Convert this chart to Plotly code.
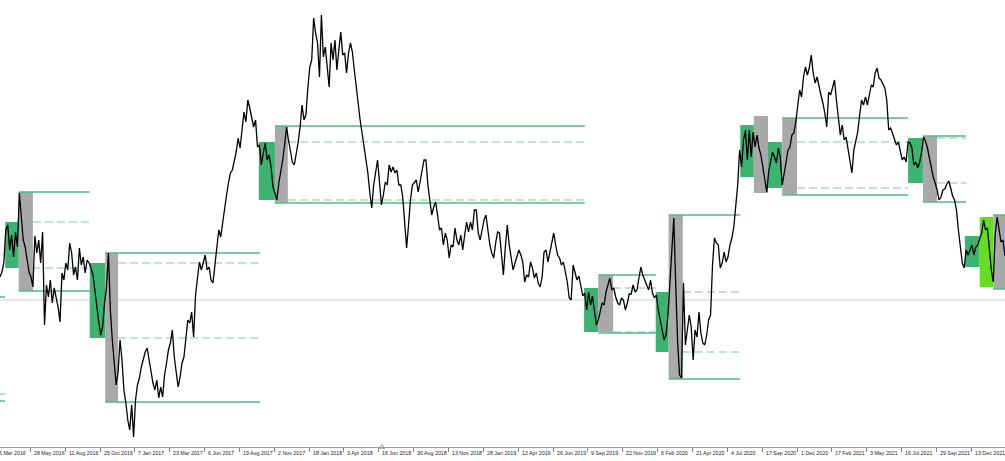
import numpy as np
import plotly.graph_objects as go

# Daily close samples (every 3 bars), EURUSD-like
close = [
    1.1245, 1.1270, 1.1320, 1.1480, 1.1505, 1.1380, 1.1455, 1.1345, 1.1470, 1.1395,
    1.1665, 1.1540, 1.1430, 1.1395, 1.1320, 1.1270, 1.1245, 1.1195, 1.1450, 1.1365,
    1.1430, 1.1315, 1.1470, 1.1005, 1.1205, 1.1145, 1.1230, 1.1115, 1.1190, 1.1140,
    1.1095, 1.1020, 1.1265, 1.1230, 1.1315, 1.1280, 1.1415, 1.1365, 1.1255, 1.1295,
    1.1230, 1.1390, 1.1305, 1.1345, 1.1265, 1.1330, 1.1315, 1.1290, 1.1255, 1.1180,
    1.1090, 1.1020, 1.0955, 1.0995, 1.1115, 1.1195, 1.1365, 1.1080, 1.0930, 1.0805,
    1.0705, 1.0770, 1.0930, 1.0830, 1.0680, 1.0615, 1.0530, 1.0480, 1.0605, 1.0445,
    1.0630, 1.0705, 1.0740, 1.0795, 1.0830, 1.0870, 1.0890, 1.0830, 1.0765, 1.0715,
    1.0680, 1.0730, 1.0640, 1.0695, 1.0645, 1.0755, 1.0815, 1.0880, 1.0915, 1.0980,
    1.0845, 1.0780, 1.0695, 1.0745, 1.0815, 1.0845, 1.0955, 1.1030, 1.1015, 1.1070,
    1.0945, 1.1155, 1.1240, 1.1320, 1.1280, 1.1315, 1.1355, 1.1280, 1.1295, 1.1230,
    1.1215, 1.1305, 1.1405, 1.1480, 1.1445, 1.1520, 1.1570, 1.1655, 1.1715, 1.1765,
    1.1780, 1.1830, 1.1870, 1.1940, 1.1890, 1.1980, 1.2070, 1.2020, 1.2130, 1.2090,
    1.2045, 1.1995, 1.2030, 1.1895, 1.1905, 1.1805, 1.1865, 1.1915, 1.1830, 1.1855,
    1.1795, 1.1695, 1.1665, 1.1630, 1.1715, 1.1765, 1.1830, 1.1905, 1.1995, 1.1930,
    1.1880, 1.1820, 1.1805, 1.1855, 1.1920, 1.1995, 1.2105, 1.2030, 1.2055, 1.2190,
    1.2295, 1.2330, 1.2540, 1.2465, 1.2415, 1.2245, 1.2555, 1.2345, 1.2395, 1.2295,
    1.2195, 1.2415, 1.2330, 1.2430, 1.2280, 1.2380, 1.2470, 1.2355, 1.2365, 1.2265,
    1.2365, 1.2415, 1.2370, 1.2280, 1.2190, 1.2095, 1.2030, 1.1965, 1.1905, 1.1830,
    1.1765, 1.1665, 1.1590, 1.1705, 1.1780, 1.1830, 1.1720, 1.1605, 1.1655, 1.1720,
    1.1705, 1.1805, 1.1770, 1.1795, 1.1765, 1.1780, 1.1705, 1.1705, 1.1645, 1.1505,
    1.1390, 1.1505, 1.1630, 1.1705, 1.1715, 1.1730, 1.1670, 1.1730, 1.1770, 1.1830,
    1.1830, 1.1705, 1.1630, 1.1555, 1.1595, 1.1620, 1.1555, 1.1480, 1.1490, 1.1405,
    1.1465, 1.1430, 1.1340, 1.1405, 1.1395, 1.1490, 1.1430, 1.1405, 1.1455, 1.1380,
    1.1455, 1.1520, 1.1470, 1.1520, 1.1480, 1.1580, 1.1580, 1.1465, 1.1430, 1.1480,
    1.1530, 1.1555, 1.1480, 1.1405, 1.1365, 1.1340, 1.1415, 1.1470, 1.1465, 1.1355,
    1.1255, 1.1395, 1.1505, 1.1405, 1.1340, 1.1280, 1.1315, 1.1345, 1.1380, 1.1355,
    1.1320, 1.1220, 1.1255, 1.1245, 1.1320, 1.1290, 1.1240, 1.1265, 1.1215, 1.1195,
    1.1245, 1.1370, 1.1380, 1.1320, 1.1370, 1.1430, 1.1465, 1.1405, 1.1355, 1.1340,
    1.1305, 1.1320, 1.1265, 1.1220, 1.1140, 1.1130, 1.1305, 1.1270, 1.1230, 1.1250,
    1.1190, 1.1150, 1.1165, 1.1080, 1.1170, 1.1105, 1.1150, 1.1080, 1.1005, 1.1030,
    1.1080, 1.1115, 1.1105, 1.1170, 1.1205, 1.1240, 1.1180, 1.1190, 1.1145, 1.1115,
    1.1105, 1.1140, 1.1130, 1.1080, 1.1115, 1.1160, 1.1160, 1.1205, 1.1170, 1.1180,
    1.1240, 1.1295, 1.1255, 1.1230, 1.1205, 1.1180, 1.1230, 1.1165, 1.1140, 1.1155,
    1.1080, 1.1020, 1.0980, 1.0930, 1.0955, 1.1055, 1.1230, 1.1430, 1.1540, 1.1205,
    1.0915, 1.0755, 1.0740, 1.1215, 1.0905, 1.0980, 1.1055, 1.0995, 1.0830, 1.0980,
    1.0945, 1.1070, 1.0965, 1.0915, 1.0905, 1.0955, 1.1030, 1.1055, 1.1305, 1.1440,
    1.1415, 1.1405, 1.1290, 1.1315, 1.1370, 1.1320, 1.1345, 1.1405, 1.1440, 1.1495,
    1.1605, 1.1705, 1.1880, 1.1795, 1.1930, 1.1980, 1.1830, 1.1980, 1.1845, 1.1970,
    1.1895, 1.1955, 1.1890, 1.1855, 1.1795, 1.1730, 1.1670, 1.1770, 1.1815, 1.1870,
    1.1845, 1.1815, 1.1890, 1.1845, 1.1705, 1.1755, 1.1820, 1.1880, 1.1895, 1.1955,
    1.1965, 1.2020, 1.2105, 1.2180, 1.2145, 1.2245, 1.2295, 1.2255, 1.2290, 1.2355,
    1.2265, 1.2215, 1.2245, 1.2190, 1.2155, 1.2115, 1.2065, 1.1995, 1.2170, 1.2155,
    1.2190, 1.2230, 1.2130, 1.2030, 1.1955, 1.2005, 1.1930, 1.1945, 1.1880, 1.1815,
    1.1765, 1.1880, 1.1930, 1.1970, 1.2055, 1.2130, 1.2105, 1.2145, 1.2105, 1.2160,
    1.2205, 1.2195, 1.2265, 1.2290, 1.2240, 1.2230, 1.2210, 1.2190, 1.2130, 1.1980,
    1.1990, 1.1960, 1.1930, 1.1905, 1.1920, 1.1865, 1.1830, 1.1845, 1.1820, 1.1920,
    1.1915, 1.1890, 1.1805, 1.1820, 1.1790, 1.1820, 1.1870, 1.1945, 1.1925, 1.1890,
    1.1840, 1.1790, 1.1745, 1.1715, 1.1680, 1.1630, 1.1645, 1.1680, 1.1685, 1.1710,
    1.1725, 1.1690, 1.1650, 1.1630, 1.1580, 1.1480, 1.1405, 1.1315, 1.1290, 1.1380,
    1.1355, 1.1380, 1.1405, 1.1355, 1.1395, 1.1405, 1.1440, 1.1465, 1.1530, 1.1480,
    1.1490, 1.1380, 1.1280, 1.1220, 1.1455, 1.1545, 1.1470, 1.1420, 1.1430, 1.1355,
    1.1345,
]
BAR_STEP = 3

tick_labels = [
    "6 Mar 2016", "28 May 2016", "11 Aug 2016", "25 Oct 2016", "7 Jan 2017",
    "23 Mar 2017", "6 Jun 2017", "19 Aug 2017", "2 Nov 2017", "18 Jan 2018",
    "3 Apr 2018", "16 Jun 2018", "30 Aug 2018", "13 Nov 2018", "28 Jan 2019",
    "12 Apr 2019", "26 Jun 2019", "9 Sep 2019", "22 Nov 2019", "6 Feb 2020",
    "21 Apr 2020", "4 Jul 2020", "17 Sep 2020", "1 Dec 2020", "17 Feb 2021",
    "3 May 2021", "16 Jul 2021", "29 Sep 2021", "13 Dec 2021",
]
TICK_FIRST_BAR = -7
TICK_EVERY = 54

# consolidation boxes: (start bar, end bar, high, low)
green_boxes = [
    (8, 29, 1.1520, 1.1290), (139, 163, 1.1315, 1.0940), (401, 426, 1.1920, 1.1630),
    (905, 927, 1.1190, 1.0970), (1016, 1036, 1.1170, 1.0870), (1147, 1168, 1.2005, 1.1745),
    (1190, 1212, 1.1920, 1.1690), (1407, 1430, 1.1940, 1.1715), (1495, 1518, 1.1450, 1.1295),
]
lime_boxes = [(1518, 1539, 1.1545, 1.1195)]
# breakout boxes
gray_boxes = [
    (29, 51, 1.1670, 1.1175), (163, 183, 1.1365, 1.0620), (426, 446, 1.2000, 1.1615),
    (927, 950, 1.1255, 1.0970), (1036, 1058, 1.1555, 1.0735), (1168, 1190, 1.2050, 1.1665),
    (1212, 1235, 1.2040, 1.1655), (1430, 1452, 1.1950, 1.1620), (1539, 1570, 1.1555, 1.1185),
]
# level lines: (start bar, end bar, price)
solid_levels = [
    (0, 8, 1.1145), (0, 8, 1.0625),
    (29, 139, 1.1670), (29, 139, 1.1175),
    (163, 403, 1.1365), (163, 403, 1.0620),
    (426, 906, 1.2000), (426, 906, 1.1615),
    (927, 1016, 1.1255), (927, 1016, 1.0965),
    (1036, 1147, 1.1555), (1036, 1147, 1.0735),
    (1212, 1407, 1.2040), (1212, 1407, 1.1655),
    (1430, 1497, 1.1950), (1430, 1497, 1.1620),
    (1539, 1570, 1.1555), (1539, 1570, 1.1185),
]
dashed_levels = [
    (0, 8, 1.0660),
    (51, 139, 1.1520), (51, 139, 1.1290),
    (183, 403, 1.1315), (183, 403, 1.0940),
    (446, 906, 1.1920), (446, 906, 1.1630),
    (950, 1016, 1.1190), (950, 1016, 1.0970),
    (1058, 1147, 1.1170), (1058, 1147, 1.0870),
    (1235, 1407, 1.1920), (1235, 1407, 1.1690),
    (1452, 1497, 1.1940), (1452, 1497, 1.1715),
]
bid_level = 1.1130
shift_marker_bar = 592

X_RANGE = [0, 1557.2]
Y_RANGE = [1.0395, 1.2630]

bars = np.arange(len(close)) * BAR_STEP

fig = go.Figure()
fig.add_trace(go.Scatter(x=bars, y=close, mode="lines",
                         line=dict(color="black", width=1.3), hoverinfo="skip",
                         showlegend=False))
fig.add_trace(go.Scatter(x=[shift_marker_bar], y=[Y_RANGE[0]], mode="markers",
                         marker=dict(symbol="triangle-up-open", size=5, color="#a0a0a0",
                                     line=dict(width=1)),
                         yaxis="y", cliponaxis=False, hoverinfo="skip", showlegend=False))

shapes = []
shapes.append(dict(type="line", xref="paper", yref="y", x0=0, x1=1, y0=bid_level, y1=bid_level,
                   line=dict(color="#cfcfcf", width=1), layer="below"))
for x0, x1, hi, lo in green_boxes:
    shapes.append(dict(type="rect", x0=x0, x1=x1, y0=lo, y1=hi, fillcolor="#3cb371",
                       line=dict(width=0), layer="below"))
for x0, x1, hi, lo in lime_boxes:
    shapes.append(dict(type="rect", x0=x0, x1=x1, y0=lo, y1=hi, fillcolor="#66dd22",
                       line=dict(width=0), layer="below"))
for x0, x1, hi, lo in gray_boxes:
    shapes.append(dict(type="rect", x0=x0, x1=x1, y0=lo, y1=hi, fillcolor="#a9a9a9",
                       line=dict(width=0), layer="below"))
for x0, x1, p in dashed_levels:
    shapes.append(dict(type="line", x0=x0, x1=x1, y0=p, y1=p,
                       line=dict(color="#7fcc9c", width=1.2, dash="8px,4px"), layer="below"))
for x0, x1, p in solid_levels:
    shapes.append(dict(type="line", x0=x0, x1=x1, y0=p, y1=p,
                       line=dict(color="#4cbc7e", width=1.5), layer="below"))

tick_bars = [TICK_FIRST_BAR + TICK_EVERY * k for k in range(len(tick_labels))]
annotations = []
for tb, lab in zip(tick_bars, tick_labels):
    annotations.append(dict(xref="paper", yref="paper",
                            x=(tb - X_RANGE[0]) / (X_RANGE[1] - X_RANGE[0]), y=0,
                            xanchor="left", yanchor="top", xshift=1.5, yshift=-1,
                            text=lab, showarrow=False,
                            font=dict(family="Liberation Sans, Arial",
                                      size=5.3, color="#222222")))

fig.update_layout(
    width=1005, height=461,
    margin=dict(l=0, r=0, t=0, b=14),
    paper_bgcolor="white", plot_bgcolor="white",
    shapes=shapes, annotations=annotations,
    xaxis=dict(range=X_RANGE, showgrid=False, zeroline=False, showline=True,
               linecolor="#a0a0a0", linewidth=1, ticks="outside", ticklen=4,
               tickcolor="#808080", tickvals=tick_bars, showticklabels=False,
               fixedrange=True),
    yaxis=dict(range=Y_RANGE, showgrid=False, zeroline=False, showline=False,
               showticklabels=False, ticks="", fixedrange=True),
)

fig.write_html("out.html", config={"displayModeBar": False},
               post_script="document.body.style.margin='0px';document.body.style.overflow='hidden';")
